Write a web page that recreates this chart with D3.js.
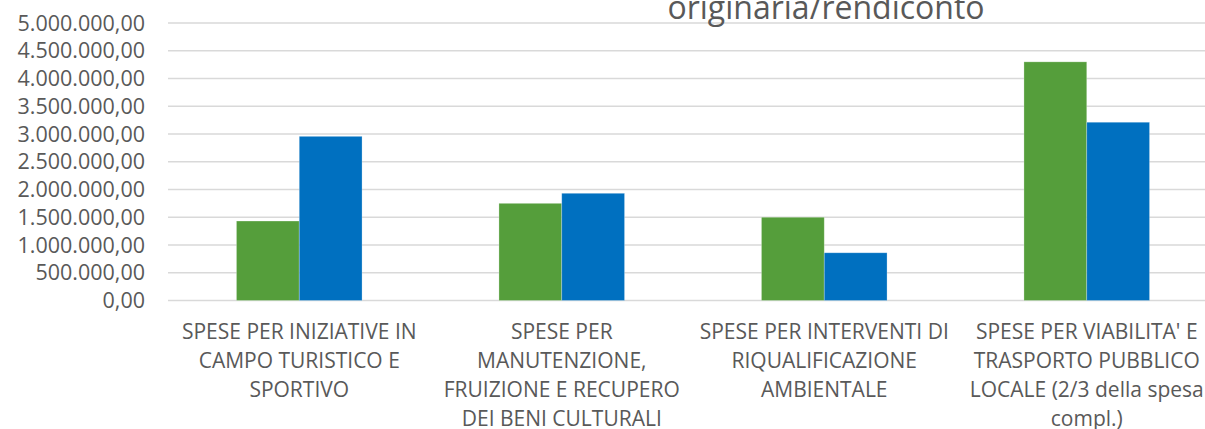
<!DOCTYPE html>
<html>
<head>
<meta charset="utf-8">
<script src="https://cdn.jsdelivr.net/npm/d3@7"></script>
<style>
  body { margin: 0; background: #fff; }
  svg { display: block; }
  text { font-family: "Open Sans", sans-serif; fill: #595959; }
</style>
</head>
<body>
<div id="chart"></div>
<script>
// values
const categories = [
  ["SPESE PER INIZIATIVE IN", "CAMPO TURISTICO E", "SPORTIVO"],
  ["SPESE PER", "MANUTENZIONE,", "FRUIZIONE E RECUPERO", "DEI BENI CULTURALI"],
  ["SPESE PER INTERVENTI DI", "RIQUALIFICAZIONE", "AMBIENTALE"],
  ["SPESE PER VIABILITA' E", "TRASPORTO PUBBLICO", "LOCALE (2/3 della spesa", "compl.)"]
];
const seriesNames = ["previsione originaria", "rendiconto"];
const greenValues = [1432000, 1751000, 1500000, 4300000];
const blueValues = [2958000, 1932000, 860000, 3212000];
const yTicks = [0, 500000, 1000000, 1500000, 2000000, 2500000, 3000000, 3500000, 4000000, 4500000, 5000000];
const titleText = "originaria/rendiconto";

const width = 1205, height = 429;
const colors = ["#559E3B", "#0070C0"];

const itFormat = d3.formatLocale({
  decimal: ",", thousands: ".", grouping: [3], currency: ["€", ""]
}).format(",.2f");

const svg = d3.select("#chart").append("svg")
    .attr("width", width)
    .attr("height", height);

const plotLeft = 168, plotRight = 1218, plotTop = 23, plotBottom = 300.5;

const x0 = d3.scaleBand()
    .domain(d3.range(categories.length))
    .range([plotLeft, plotRight])
    .padding(0);

const x1 = d3.scaleBand()
    .domain(seriesNames)
    .range([0, x0.bandwidth()])
    .paddingInner(0)
    .paddingOuter(1.09);

const y = d3.scaleLinear()
    .domain([0, 5000000])
    .range([plotBottom, plotTop]);

// gridlines
svg.append("g")
  .selectAll("line")
  .data(yTicks)
  .join("line")
    .attr("x1", plotLeft)
    .attr("x2", width)
    .attr("y1", d => y(d))
    .attr("y2", d => y(d))
    .attr("stroke", "#D9D9D9")
    .attr("stroke-width", 1.5);

// y tick labels
svg.append("g")
    .attr("text-anchor", "end")
    .style("font-size", "21.5px")
  .selectAll("text")
  .data(yTicks)
  .join("text")
    .attr("x", 145)
    .attr("y", d => y(d))
    .attr("dy", "0.36em")
    .text(d => itFormat(d));

// bars
const rows = categories.map((c, i) => ({ i, values: [greenValues[i], blueValues[i]] }));

svg.append("g")
  .selectAll("g")
  .data(rows)
  .join("g")
    .attr("transform", d => `translate(${x0(d.i)},0)`)
  .selectAll("rect")
  .data(d => d.values.map((v, k) => ({ k, v })))
  .join("rect")
    .attr("x", d => x1(seriesNames[d.k]))
    .attr("width", x1.bandwidth())
    .attr("y", d => y(d.v))
    .attr("height", d => y(0) - y(d.v))
    .attr("fill", d => colors[d.k])
    .attr("stroke", "#ffffff")
    .attr("stroke-opacity", 0.35)
    .attr("stroke-width", 0.75);

// category labels
const lab = svg.append("g")
    .attr("text-anchor", "middle")
    .style("font-size", "21px")
  .selectAll("text")
  .data(categories)
  .join("text")
    .attr("x", (d, i) => x0(i) + x0.bandwidth() / 2)
    .attr("y", 338.5);

lab.selectAll("tspan")
  .data(d => d)
  .join("tspan")
    .attr("x", function() { return this.parentNode.getAttribute("x"); })
    .attr("dy", (d, i) => i === 0 ? 0 : 29)
    .text(d => d);

// title (cut off at the top in the original)
svg.append("text")
    .attr("x", 826)
    .attr("y", 19)
    .attr("text-anchor", "middle")
    .style("font-size", "32px")
    .text(titleText);
</script>
</body>
</html>
